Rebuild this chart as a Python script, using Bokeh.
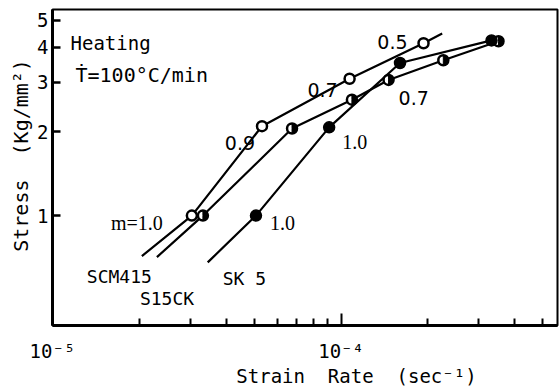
from bokeh.plotting import figure
from bokeh.models import Range1d, FixedTicker, CustomJSTickFormatter, Label
from bokeh.core.properties import value
from bokeh.embed import file_html
from bokeh.resources import INLINE

# ---- data ----
# SCM415 (open circles)
scm415_x = [3.04e-5, 5.32e-5, 1.07e-4, 1.93e-4]
scm415_y = [1.0, 2.09, 3.09, 4.14]
scm415_line_x = [2.04e-5] + scm415_x + [2.24e-4]
scm415_line_y = [0.716] + scm415_y + [4.49]

# S15CK (half-filled circles)
s15ck_x = [3.32e-5, 6.76e-5, 1.09e-4, 1.46e-4, 2.26e-4, 3.51e-4]
s15ck_y = [1.0, 2.05, 2.60, 3.06, 3.60, 4.21]
s15ck_line_x = [2.30e-5] + s15ck_x
s15ck_line_y = [0.71] + s15ck_y

# SK5 (filled circles)
sk5_x = [5.07e-5, 9.09e-5, 1.60e-4, 3.32e-4]
sk5_y = [1.0, 2.07, 3.52, 4.24]
sk5_line_x = [3.45e-5] + sk5_x
sk5_line_y = [0.68] + sk5_y

x_ticks = [1e-5, 1e-4]
x_minor = [2e-5, 3e-5, 4e-5, 5e-5, 6e-5, 7e-5, 8e-5, 9e-5, 2e-4, 3e-4, 4e-4, 5e-4]
y_ticks = [1, 2, 3, 4, 5]

MONO = "DejaVu Sans Mono"

p = figure(width=559, height=389, x_axis_type="log", y_axis_type="log",
           x_range=Range1d(1e-5, 5.62e-4), y_range=Range1d(0.404, 5.47),
           output_backend="svg", toolbar_location=None,
           min_border_left=52, min_border_right=2, min_border_top=9, min_border_bottom=61)
p.background_fill_color = "white"
p.border_fill_color = "white"
p.outline_line_color = "black"
p.outline_line_width = 2
p.xgrid.visible = False
p.ygrid.visible = False

# x axis
xa = p.xaxis[0]
xa.ticker = FixedTicker(ticks=x_ticks, minor_ticks=x_minor)
xa.formatter = CustomJSTickFormatter(code="return tick < 3e-5 ? '10\u207b\u2075' : '10\u207b\u2074';")
xa.axis_line_width = 3
xa.major_tick_line_width = 2
xa.minor_tick_line_width = 2
xa.major_tick_in = 12
xa.major_tick_out = 0
xa.minor_tick_in = 7
xa.minor_tick_out = 0
xa.major_label_text_font = MONO
xa.major_label_text_font_size = "19px"
xa.major_label_text_color = "black"
xa.major_label_standoff = 14
xa.axis_label = "\u00a0" * 9 + "Strain\u00a0\u00a0Rate\u00a0\u00a0(sec\u207b\u00b9)"
xa.axis_label_text_font = MONO
xa.axis_label_text_font_size = "19px"
xa.axis_label_text_font_style = "normal"
xa.axis_label_text_color = "black"
xa.axis_label_standoff = 0

# y axis
ya = p.yaxis[0]
ya.ticker = FixedTicker(ticks=y_ticks, minor_ticks=[])
ya.formatter = CustomJSTickFormatter(code="return Math.round(tick).toString();")
ya.axis_line_width = 3
ya.major_tick_line_width = 2.5
ya.major_tick_in = 8
ya.major_tick_out = 0
ya.minor_tick_in = 0
ya.minor_tick_out = 0
ya.major_label_text_font = MONO
ya.major_label_text_font_size = "19px"
ya.major_label_text_color = "black"
ya.major_label_standoff = 4
ya.axis_label = "\u00a0\u00a0Stress\u00a0\u00a0(Kg/mm\u00b2)"
ya.axis_label_text_font = MONO
ya.axis_label_text_font_size = "20px"
ya.axis_label_text_font_style = "normal"
ya.axis_label_text_color = "black"
ya.axis_label_standoff = 1

# curves
for lx, ly in [(scm415_line_x, scm415_line_y), (s15ck_line_x, s15ck_line_y), (sk5_line_x, sk5_line_y)]:
    p.line(lx, ly, line_color="black", line_width=2.2)

# markers
p.scatter(scm415_x, scm415_y, marker="circle", size=10, fill_color="white",
          line_color="black", line_width=2.5)
p.scatter(s15ck_x, s15ck_y, marker="circle", size=10, fill_color="white",
          line_color="black", line_width=2.5)
p.wedge(s15ck_x, s15ck_y, radius=5, radius_units="screen", start_angle=-1.5708,
        end_angle=1.5708, fill_color="black", line_color="black", line_width=1)
p.scatter(sk5_x, sk5_y, marker="circle", size=11, fill_color="black",
          line_color="black", line_width=1.5)

# m-value labels
p.text([scm415_x[1], scm415_x[2], scm415_x[3]], [scm415_y[1], scm415_y[2], scm415_y[3]],
       text=["0.9", "0.7", "0.5"], x_offset=[-7, -12, -16], y_offset=[17, 11, -1],
       text_align="right", text_baseline="alphabetic",
       text_font=value("DejaVu Sans"), text_font_size="19px", text_color="black")
p.text([s15ck_x[3]], [s15ck_y[3]], text=["0.7"], x_offset=[10], y_offset=[18],
       text_align="left", text_baseline="alphabetic",
       text_font=value("DejaVu Sans"), text_font_size="19px", text_color="black")
p.text([scm415_x[0]], [scm415_y[0]], text=["m=1.0"], x_offset=[-29], y_offset=[7],
       text_align="right", text_baseline="alphabetic",
       text_font=value("Liberation Serif"), text_font_size="20px", text_color="black")
p.text([sk5_x[0], sk5_x[1]], [sk5_y[0], sk5_y[1]], text=["1.0", "1.0"],
       x_offset=[14, 13], y_offset=[7, 15],
       text_align="left", text_baseline="alphabetic",
       text_font=value("Liberation Serif"), text_font_size="20px", text_color="black")

# material labels at curve starts
p.text([scm415_line_x[0]], [scm415_line_y[0]], text=["SCM415"], x_offset=[10], y_offset=[20],
       text_align="right", text_baseline="alphabetic",
       text_font=value(MONO), text_font_size="18px", text_color="black")
p.text([s15ck_line_x[0]], [s15ck_line_y[0]], text=["S15CK"], x_offset=[-17], y_offset=[41],
       text_align="left", text_baseline="alphabetic",
       text_font=value(MONO), text_font_size="18px", text_color="black")
p.text([sk5_line_x[0]], [sk5_line_y[0]], text=["SK 5"], x_offset=[15], y_offset=[16],
       text_align="left", text_baseline="alphabetic",
       text_font=value(MONO), text_font_size="18px", text_color="black")

# condition text
p.add_layout(Label(x=18, y=283, x_units="screen", y_units="screen", text="Heating",
                   text_font=MONO, text_font_size="19px", text_baseline="alphabetic",
                   text_color="black"))
p.add_layout(Label(x=23, y=251, x_units="screen", y_units="screen", text="\u1e6a=100\u00b0C/min",
                   text_font=MONO, text_font_size="20px", text_baseline="alphabetic",
                   text_color="black"))

open("out.html", "w", encoding="utf-8").write(file_html(p, INLINE))
